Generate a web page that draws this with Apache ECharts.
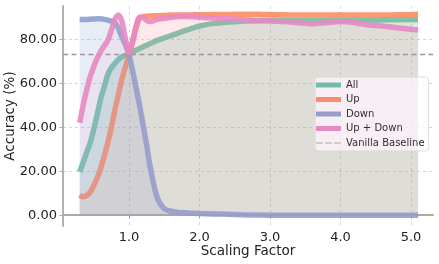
<!DOCTYPE html>
<html>
<head>
<meta charset="utf-8">
<script src="https://cdn.jsdelivr.net/npm/echarts@6/dist/echarts.min.js"></script>
<style>html,body{margin:0;padding:0;background:#fff}#c{width:439px;height:264px}</style>
</head>
<body>
<div id="c"></div>
<script>
const xs = [0.3,0.35,0.4,0.45,0.5,0.55,0.6,0.65,0.7,0.75,0.8,0.85,0.9,0.95,1.0,1.05,1.1,1.15,1.2,1.25,1.3,1.4,1.5,1.6,1.7,1.8,1.9,2.0,2.2,2.4,2.6,2.8,3.0,3.2,3.4,3.6,3.8,4.0,4.2,4.4,4.6,4.8,5.0,5.1];
const allVals = [19.7,24,28.5,33,39,46,53,58.5,64,67,69,70.8,72,72.5,73,74.2,75,75.8,76.6,77.3,78,79.5,80.6,81.6,82.8,84,85,86,87.2,87.8,88.2,88.4,88.6,88.6,88.5,88.5,88.6,88.6,88.7,88.7,88.8,88.9,89,89];
const upVals = [9.2,8.4,9,10.5,13.5,17,21.5,27,33,40,48,55,62,67.5,73,79,85.5,89.5,90.3,90.5,90.6,90.7,90.8,91,91,91,91.1,91.1,91.2,91.2,91.4,91.3,91.2,91.1,91,91,91,91,91,91,91,91.1,91.2,91.3];
const downVals = [89,89,89,89.1,89.2,89.3,89.3,89,88.7,88.2,87.5,85,81,77.5,73,66,58,50,41,32,22,8,3,1.8,1.3,1.1,0.9,0.8,0.6,0.4,0.2,0.1,0,0,0,0,0,0,0,0,0,0,0,0];
const upDownVals = [42,50,57,63,67.5,71.5,74.5,77,79.5,84,89,91,88,80,74,78.5,85.5,90,90,88.5,88,89,89.5,90,90.2,90.3,90.2,90,89.6,89.3,89,88.5,88.3,88,87.5,87,87.5,88,87.5,86.5,86,85.2,84.5,84.2];
const baseline = 73.3;
const seriesNames = ['All','Up','Down','Up + Down'];
const xTicks = [1,2,3,4,5];
const yTicks = [0,20,40,60,80];

const colors = ['#66c2a5','#fc8d62','#8da0cb','#e78ac3'];
const fillAlpha = [0.25,0.1,0.2,0.1];
const valsList = [allVals, upVals, downVals, upDownVals];
const FONT = 'DejaVu Sans';

const series = seriesNames.map((n,i)=>({
  name:n, type:'line', smooth:0.3, symbol:'none',
  data: xs.map((x,j)=>[x, valsList[i][j]]),
  lineStyle:{width:5.5, color:colors[i], opacity:0.9},
  itemStyle:{color:colors[i]},
  areaStyle:{origin:0, color:colors[i], opacity:fillAlpha[i]},
  z: 2+i
}));
series.push({
  name:'Vanilla Baseline', type:'line', data:[], symbol:'none',
  lineStyle:{color:'#999', type:'dashed', width:1.3}, itemStyle:{color:'#999'},
  markLine:{silent:true, symbol:'none', label:{show:false},
    lineStyle:{color:'#999', type:[5,3.5], width:1.4}, data:[{yAxis: baseline}]},
  z:10
});

const chart = echarts.init(document.getElementById('c'), null, {renderer:'canvas'});
chart.setOption({
  animation:false,
  grid:{left:63, right:6, top:6, bottom:38, containLabel:false, outerBoundsMode:'none'},
  xAxis:{type:'value', min:0.064, max:5.312,
    name:'Scaling Factor', nameLocation:'middle', nameGap:18, nameMoveOverlap:false,
    nameTextStyle:{fontFamily:FONT, fontSize:13.5, color:'#222'},
    axisLine:{lineStyle:{color:'#aaa', width:1.8}},
    axisTick:{customValues:xTicks, length:3.5, lineStyle:{color:'#aaa', width:1}},
    axisLabel:{customValues:xTicks, formatter:v=>v.toFixed(1), fontFamily:FONT, fontSize:13, color:'#222', margin:5},
    splitLine:{show:true, lineStyle:{color:'#ccc', width:0.8, type:[3,3]}}
  },
  yAxis:{type:'value', min:-4.9, max:95.1,
    name:'Accuracy (%)', nameLocation:'middle', nameGap:46, nameMoveOverlap:false,
    nameTextStyle:{fontFamily:FONT, fontSize:13.5, color:'#222'},
    axisLine:{show:true, lineStyle:{color:'#aaa', width:1.8}},
    axisTick:{show:true, customValues:yTicks, length:3.5, lineStyle:{color:'#aaa', width:1}},
    axisLabel:{customValues:yTicks, formatter:v=>v.toFixed(2), fontFamily:FONT, fontSize:13, color:'#222', margin:6},
    splitLine:{show:true, lineStyle:{color:'#ccc', width:0.8, type:[3,3]}}
  },
  legend:{orient:'vertical', left:315, top:77, itemWidth:25, itemHeight:5, itemGap:2.5,
    padding:[2,4,2,1], backgroundColor:'rgba(255,255,255,0.8)', borderColor:'#ddd', borderWidth:1, borderRadius:3,
    textStyle:{fontFamily:FONT, fontSize:10, color:'#222', lineHeight:12},
    data:[
      {name:'All', icon:'rect'},
      {name:'Up', icon:'rect'},
      {name:'Down', icon:'rect'},
      {name:'Up + Down', icon:'rect'},
      {name:'Vanilla Baseline', icon:'path://M0,0h7v1h-7z M9,0h7v1h-7z M18,0h7v1h-7z', itemStyle:{color:'#aaa'}}
    ]},
  series: series
});
</script>
</body>
</html>
